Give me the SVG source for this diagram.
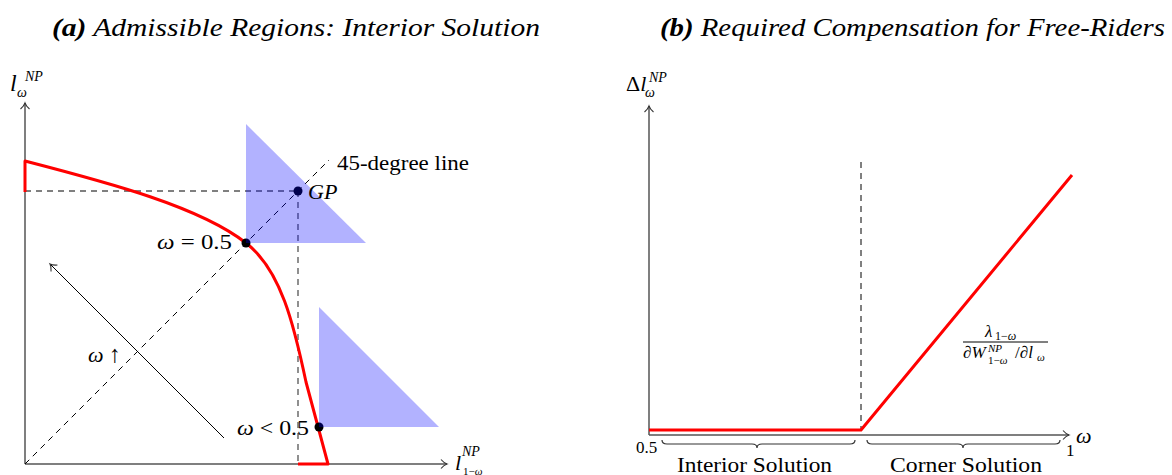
<svg xmlns="http://www.w3.org/2000/svg" width="1172" height="475" viewBox="0 0 1172 475">
<defs>
<style>
text{font-family:"Liberation Serif","DejaVu Serif",serif;fill:#000}
.it{font-style:italic}
.title{font-size:25px;font-style:italic}
.axis{stroke:#555;stroke-width:1.5;fill:none}
.red{stroke:#ff0000;stroke-width:3;fill:none;stroke-linejoin:round}
.dash{stroke:#000;stroke-width:1;stroke-dasharray:6,5;fill:none}
.gdash{stroke:#555;stroke-width:1.3;stroke-dasharray:6,5;fill:none}
.tri{fill:#0000ff;fill-opacity:0.3}
.lab{font-size:22px}
.sup{font-size:14px;font-style:italic}
.brace{stroke:#333;stroke-width:1.2;fill:none}
</style>
<marker id="to" markerWidth="12" markerHeight="12" refX="9" refY="6" orient="auto" markerUnits="userSpaceOnUse">
<path d="M3,1.5 Q6,5 9,6 Q6,7 3,10.5" fill="none" stroke="#333" stroke-width="1.1"/>
</marker>
</defs>

<g id="title-a"><text class="title" x="52" y="36" textLength="488" lengthAdjust="spacingAndGlyphs"><tspan font-weight="bold">(a)</tspan> Admissible Regions: Interior Solution</text></g>
<g id="title-b"><text class="title" x="660" y="36" textLength="505" lengthAdjust="spacingAndGlyphs"><tspan font-weight="bold">(b)</tspan> Required Compensation for Free-Riders</text></g>

<!-- Panel (a) -->
<g id="axes-a">
<line class="axis" x1="25" y1="464" x2="25" y2="103" marker-end="url(#to)"/>
<line class="axis" x1="25" y1="464" x2="447" y2="464" marker-end="url(#to)"/>
<text class="it" x="10" y="91" font-size="24">l</text>
<text class="sup" x="25" y="81">NP</text>
<text class="sup" x="17" y="97">ω</text>
<text class="it" x="455" y="470" font-size="22">l</text>
<text class="sup" x="462" y="456">NP</text>
<text x="463" y="475" font-size="11">1−<tspan font-style="italic">ω</tspan></text>
</g>

<g id="connectors">
<line class="dash" x1="25" y1="191" x2="298" y2="191"/>
<line class="gdash" x1="298" y1="191" x2="298" y2="464"/>
<line class="dash" x1="25" y1="464" x2="329" y2="160"/>
<line x1="224" y1="438" x2="50" y2="264" stroke="#000" stroke-width="1" marker-end="url(#to)"/>
</g>

<g id="frontier">
<path class="red" d="M25,192 L25,161 C110,183 200,207 246,243 C281,270 294,325 306,382 L328,464 L298,464"/>
</g>

<g id="points">
<circle cx="246" cy="243" r="4.5" fill="#000"/>
<circle cx="298" cy="191" r="4.5" fill="#000"/>
<circle cx="319" cy="427" r="4.5" fill="#000"/>
</g>

<g id="regions">
<polygon class="tri" points="246,124 246,243 366,243"/>
<polygon class="tri" points="319,307 319,427 439,427"/>
</g>

<g id="labels-a">
<text x="337" y="170" font-size="20" textLength="132" lengthAdjust="spacingAndGlyphs">45-degree line</text>
<text class="lab it" x="308" y="199">GP</text>
<text class="lab" x="157" y="249" textLength="75" lengthAdjust="spacingAndGlyphs"><tspan font-style="italic">ω</tspan> = 0.5</text>
<text class="lab" x="237" y="435" textLength="72" lengthAdjust="spacingAndGlyphs"><tspan font-style="italic">ω</tspan> &lt; 0.5</text>
<text class="lab" x="88" y="362"><tspan font-style="italic">ω</tspan> <tspan font-size="24">↑</tspan></text>
</g>

<!-- Panel (b) -->
<g id="axes-b">
<line class="axis" x1="649" y1="435" x2="649" y2="106" marker-end="url(#to)"/>
<line class="axis" x1="649" y1="435" x2="1069" y2="435" marker-end="url(#to)"/>
<text x="626" y="91" font-size="22">Δ<tspan font-style="italic">l</tspan></text>
<text class="sup" x="649" y="82">NP</text>
<text class="sup" x="645" y="97">ω</text>
<text class="lab it" x="1076" y="443">ω</text>
<text x="636" y="453" font-size="17">0.5</text>
<text x="1066" y="456" font-size="17">1</text>
</g>

<g id="threshold">
<line class="dash" x1="861" y1="162" x2="861" y2="430"/>
</g>

<g id="compensation">
<path class="red" d="M649,430 L861,430 L1072,175"/>
</g>

<g id="formula">
<text x="985" y="337" font-size="17" font-style="italic">λ</text>
<text x="995" y="340" font-size="12">1−<tspan font-style="italic">ω</tspan></text>
<line x1="963" y1="342" x2="1048" y2="342" stroke="#000" stroke-width="1"/>
<text x="963" y="358" font-size="17">∂<tspan font-style="italic">W</tspan></text>
<text x="988" y="352" font-size="11" font-style="italic">NP</text>
<text x="988" y="364" font-size="11">1−<tspan font-style="italic">ω</tspan></text>
<text x="1015" y="358" font-size="17">/∂<tspan font-style="italic">l</tspan></text>
<text x="1037" y="361" font-size="11" font-style="italic">ω</text>
</g>

<g id="braces">
<path class="brace" d="M662,440 Q662,444 667,444 L752,444 Q757,444 757,448 Q757,444 762,444 L850,444 Q855,444 855,440"/>
<path class="brace" d="M867,440 Q867,444 872,444 L958,444 Q963,444 963,448 Q963,444 968,444 L1055,444 Q1060,444 1060,440"/>
<text x="677" y="472" font-size="21" textLength="155" lengthAdjust="spacingAndGlyphs">Interior Solution</text>
<text x="890" y="472" font-size="21" textLength="152" lengthAdjust="spacingAndGlyphs">Corner Solution</text>
</g>
</svg>
